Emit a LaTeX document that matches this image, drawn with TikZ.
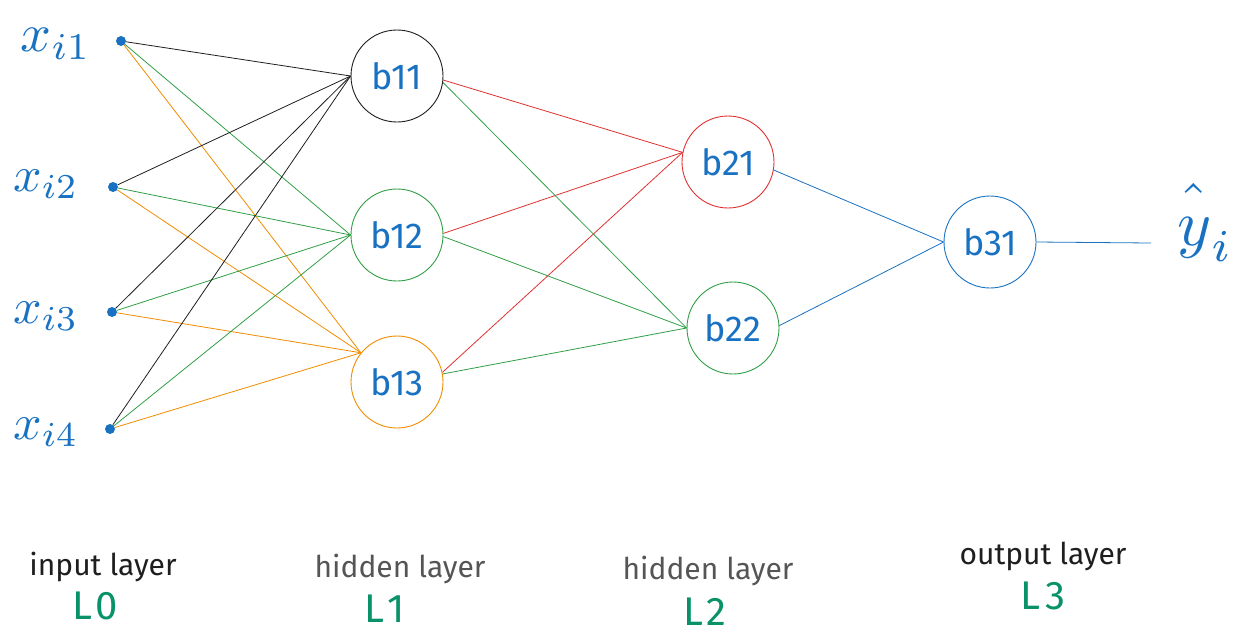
\documentclass[tikz,border=0pt]{standalone}
\usepackage{fontspec}
\setmainfont{Fira Sans}
\definecolor{nblue}{HTML}{1971C2}
\definecolor{nblack}{HTML}{1E1E1E}
\definecolor{ngreen}{HTML}{2F9E44}
\definecolor{norange}{HTML}{F08C00}
\definecolor{nred}{HTML}{E03131}
\definecolor{ngray}{HTML}{555555}
\definecolor{lteal}{HTML}{099268}
\begin{document}
\begin{tikzpicture}[x=1pt,y=-1pt,
  neuron/.style={circle, draw, minimum size=92pt, inner sep=0pt, line width=0.9pt,
    text=nblue, font=\fontsize{36}{36}\selectfont},
  inpt/.style={circle, fill=nblue, minimum size=10pt, inner sep=0pt},
  xlab/.style={text=nblue, inner sep=0pt},
  edge/.style={line width=0.8pt},
  layername/.style={font=\fontsize{30}{30}\selectfont},
  layerid/.style={text=lteal, font=\fontsize{40}{40}\selectfont}]
\useasboundingbox (0,0) rectangle (1258,643);

% input layer
\node[inpt] (i1) at (121,41) {};
\node[inpt] (i2) at (113,187) {};
\node[inpt] (i3) at (112,312) {};
\node[inpt] (i4) at (110,429) {};
\node[xlab] (t1) at (56,44) {\scalebox{5.4}{$x_{i1}$}};
\node[xlab] (t2) at (46,184) {\scalebox{5}{$x_{i2}$}};
\node[xlab] (t3) at (46,316) {\scalebox{5}{$x_{i3}$}};
\node[xlab] (t4) at (46,432) {\scalebox{5}{$x_{i4}$}};

% hidden layer 1
\node[neuron, draw=nblack] (b11) at (397,76) {b11};
\node[neuron, draw=ngreen] (b12) at (397,235) {b12};
\node[neuron, draw=norange] (b13) at (397,382) {b13};

% hidden layer 2
\node[neuron, draw=nred] (b21) at (728,162) {b21};
\node[neuron, draw=ngreen] (b22) at (733,328) {b22};

% output layer
\node[neuron, draw=nblue] (b31) at (990,242) {b31};
\coordinate (yend) at (1151,243);
\node[xlab] (yhat) at (1205,222) {\scalebox{6.5}{$\hat{\vphantom{b}y}_i$}};

% input -> hidden 1
\foreach \s in {i1,i2,i3,i4}{
  \draw[edge, nblack] (\s) -- (b11.west);
  \draw[edge, ngreen] (\s) -- (b12.west);
  \draw[edge, norange] (\s) -- (b13.141);
}
% hidden 1 -> hidden 2
\draw[edge, nred] (b11.-5) -- (b21.168);
\draw[edge, nred] (b12.2) -- (b21.168);
\draw[edge, nred] (b13.12) -- (b21.168);
\draw[edge, ngreen] (b11.-8) -- (b22.west);
\draw[edge, ngreen] (b12.-2) -- (b22.west);
\draw[edge, ngreen] (b13.10) -- (b22.west);
% hidden 2 -> output
\draw[edge, nblue] (b21.-10) -- (b31.west);
\draw[edge, nblue] (b22.3) -- (b31.west);
\draw[edge, nblue] (b31.east) -- (yend);

% layer captions
\node[layername, text=nblack] (c0) at (103,567) {input layer};
\node[layerid] (l0) at (95,606) {L\hspace{3pt}0};
\node[layername, text=ngray] (c1) at (400,569) {hidden layer};
\node[layerid] (l1) at (385,609) {L\hspace{3pt}1};
\node[layername, text=ngray] (c2) at (708,571) {hidden layer};
\node[layerid] (l2) at (705,612) {L\hspace{3pt}2};
\node[layername, text=nblack] (c3) at (1043,556) {output layer};
\node[layerid] (l3) at (1043,596) {L\hspace{6pt}3};
\end{tikzpicture}
\end{document}
